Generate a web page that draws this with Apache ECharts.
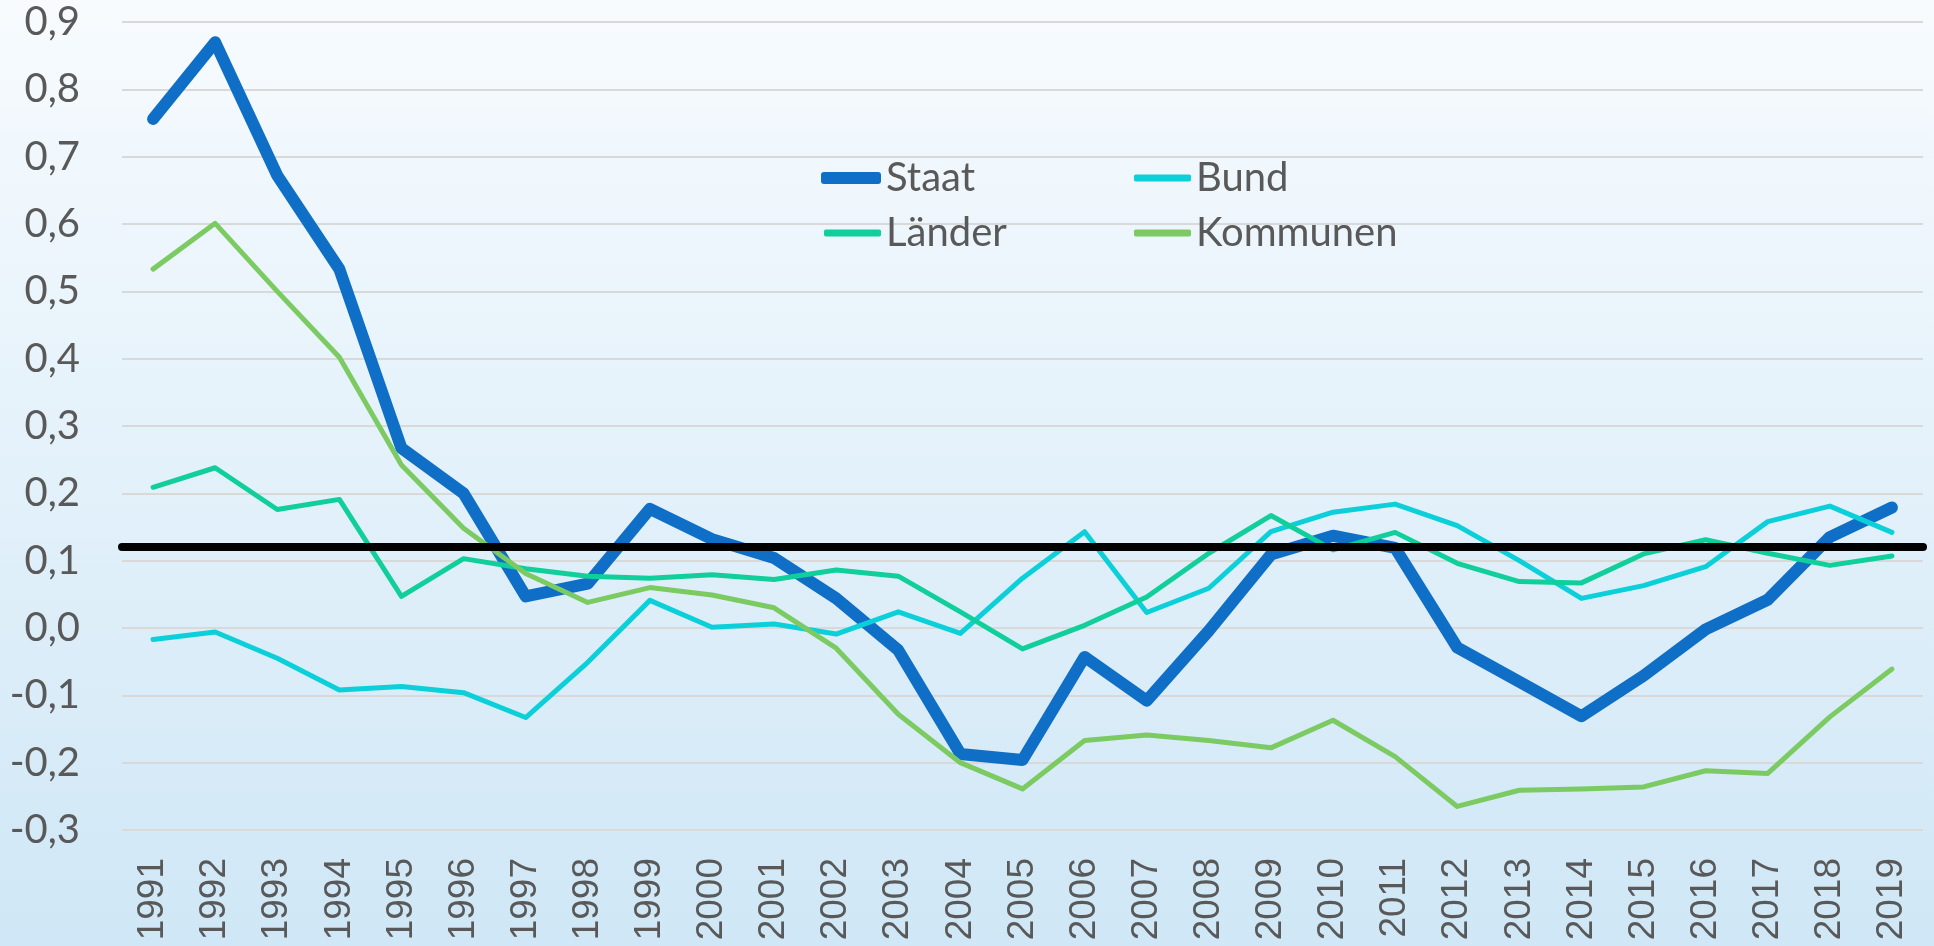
<!DOCTYPE html>
<html>
<head>
<meta charset="utf-8">
<script src="https://cdn.jsdelivr.net/npm/echarts@6/dist/echarts.min.js"></script>
<style>
  html, body { margin: 0; padding: 0; }
  #main { width: 1934px; height: 946px; }
</style>
</head>
<body>
<div id="main"></div>
<script>
const years = ['1991', '1992', '1993', '1994', '1995', '1996', '1997', '1998', '1999', '2000',
  '2001', '2002', '2003', '2004', '2005', '2006', '2007', '2008', '2009', '2010',
  '2011', '2012', '2013', '2014', '2015', '2016', '2017', '2018', '2019']
const staat = [0.756, 0.870, 0.672, 0.533, 0.267, 0.200, 0.047, 0.066, 0.177, 0.132,
  0.104, 0.044, -0.033, -0.187, -0.196, -0.043, -0.108, -0.004, 0.109, 0.137,
  0.119, -0.029, -0.080, -0.131, -0.071, -0.002, 0.042, 0.135, 0.179]
const bund = [-0.017, -0.006, -0.045, -0.092, -0.087, -0.096, -0.133, -0.051, 0.041, 0.001,
  0.006, -0.009, 0.024, -0.008, 0.074, 0.143, 0.023, 0.059, 0.143, 0.172,
  0.184, 0.152, 0.100, 0.044, 0.063, 0.091, 0.158, 0.181, 0.142]
const laender = [0.209, 0.238, 0.176, 0.191, 0.047, 0.103, 0.088, 0.077, 0.074, 0.079,
  0.072, 0.086, 0.077, 0.024, -0.031, 0.004, 0.046, 0.111, 0.167, 0.116,
  0.142, 0.096, 0.069, 0.067, 0.110, 0.131, 0.111, 0.093, 0.107]
const kommunen = [0.533, 0.601, 0.500, 0.402, 0.242, 0.148, 0.081, 0.038, 0.060, 0.049,
  0.030, -0.030, -0.128, -0.200, -0.239, -0.167, -0.159, -0.167, -0.178, -0.137,
  -0.191, -0.265, -0.241, -0.239, -0.236, -0.212, -0.216, -0.132, -0.061]
// horizontale Referenzlinie
const referenz = 0.12

const textColor = '#595959'

function makeLine(name, data, color, width) {
  return {
    name: name,
    type: 'line',
    data: data,
    symbol: 'none',
    smooth: false,
    lineStyle: {
      color: color,
      width: width,
      cap: 'round',
      join: 'round'
    },
    itemStyle: { color: color },
    emphasis: { disabled: true }
  }
}

// je Eintrag eine eigene Legende, damit Strichdicke und Spalten passen
function makeLegend(name, left, top, thick, width) {
  return {
    left: left,
    top: top,
    icon: 'roundRect',
    itemWidth: width,
    itemHeight: thick,
    textStyle: {
      color: textColor,
      fontFamily: 'Lato',
      fontSize: 40,
      lineHeight: 40
    },
    data: [name]
  }
}

const kommunenSeries = makeLine('Kommunen', kommunen, '#7cca62', 5)
kommunenSeries.markLine = {
  silent: true,
  symbol: 'none',
  label: { show: false },
  lineStyle: {
    color: '#000000',
    width: 8,
    type: 'solid',
    cap: 'round'
  },
  data: [{ yAxis: referenz }]
}

const option = {
  animation: false,
  backgroundColor: new echarts.graphic.LinearGradient(0, 0, 0, 1, [
    { offset: 0, color: '#f7fbfe' },
    { offset: 1, color: '#cfe7f6' }
  ]),
  grid: {
    left: 122,
    right: 11,
    top: 22,
    bottom: 116
  },
  legend: [
    makeLegend('Staat', 816, 153, 12, 60),
    makeLegend('Länder', 819, 208, 7, 57),
    makeLegend('Bund', 1129, 153, 7, 57),
    makeLegend('Kommunen', 1129, 208, 7, 57)
  ],
  xAxis: {
    type: 'category',
    data: years,
    axisLine: { show: false },
    axisTick: { show: false },
    axisLabel: {
      rotate: 90,
      margin: 28,
      interval: 0,
      color: textColor,
      fontFamily: 'Liberation Sans',
      fontSize: 37
    }
  },
  yAxis: {
    type: 'value',
    min: -0.3,
    max: 0.9,
    interval: 0.1,
    axisLine: { show: false },
    axisTick: { show: false },
    splitLine: {
      lineStyle: { color: '#d9d9d9', width: 2 }
    },
    axisLabel: {
      margin: 42,
      color: textColor,
      fontFamily: 'Lato',
      fontSize: 40,
      formatter: function (value) {
        return value.toFixed(1).replace('.', ',')
      }
    }
  },
  series: [
    makeLine('Staat', staat, '#0f6fc6', 12),
    makeLine('Bund', bund, '#0bd0d9', 5),
    makeLine('Länder', laender, '#10cf9b', 5),
    kommunenSeries
  ]
}

const myChart = echarts.init(document.getElementById('main'))
myChart.setOption(option)
</script>
</body>
</html>
